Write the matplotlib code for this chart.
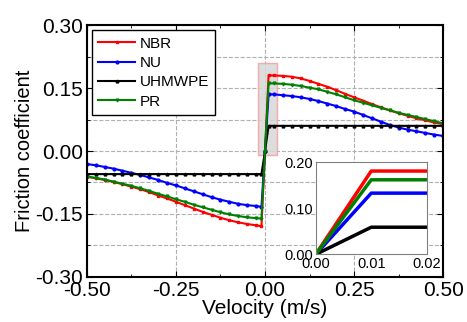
import matplotlib
matplotlib.use("Agg")
import matplotlib.pyplot as plt
from matplotlib.patches import Rectangle
from matplotlib.ticker import MultipleLocator

plt.rcParams['font.family'] = ['Liberation Sans', 'DejaVu Sans']

# velocity grid (m/s)
v_neg = [-0.500, -0.475, -0.450, -0.425, -0.400, -0.375, -0.350, -0.325, -0.300, -0.275,
         -0.250, -0.225, -0.200, -0.175, -0.150, -0.125, -0.100, -0.075, -0.050, -0.025, -0.010]
v_pos = [0.010, 0.025, 0.050, 0.075, 0.100, 0.125, 0.150, 0.175, 0.200, 0.225,
         0.250, 0.275, 0.300, 0.325, 0.350, 0.375, 0.400, 0.425, 0.450, 0.475, 0.500]

nbr_neg = [-0.061, -0.065, -0.069, -0.074, -0.079, -0.085, -0.091, -0.098, -0.106, -0.113,
           -0.121, -0.129, -0.137, -0.145, -0.152, -0.159, -0.165, -0.170, -0.174, -0.177, -0.179]
nbr_pos = [0.180, 0.180, 0.179, 0.177, 0.173, 0.167, 0.160, 0.153, 0.145, 0.136,
           0.128, 0.120, 0.112, 0.104, 0.097, 0.090, 0.084, 0.078, 0.073, 0.068, 0.064]

nu_neg = [-0.031, -0.034, -0.038, -0.042, -0.047, -0.052, -0.057, -0.063, -0.069, -0.076,
          -0.082, -0.089, -0.096, -0.103, -0.110, -0.116, -0.121, -0.126, -0.129, -0.131, -0.133]
nu_pos = [0.135, 0.135, 0.133, 0.131, 0.128, 0.124, 0.119, 0.113, 0.107, 0.100,
          0.094, 0.086, 0.078, 0.070, 0.062, 0.056, 0.051, 0.047, 0.043, 0.039, 0.036]

uhmwpe_neg = [-0.055] * 21
uhmwpe_pos = [0.060] * 21

pr_neg = [-0.061, -0.064, -0.068, -0.073, -0.078, -0.083, -0.089, -0.095, -0.102, -0.108,
          -0.115, -0.121, -0.128, -0.134, -0.140, -0.146, -0.151, -0.155, -0.158, -0.160, -0.161]
pr_pos = [0.161, 0.161, 0.160, 0.158, 0.155, 0.151, 0.147, 0.141, 0.135, 0.128,
          0.121, 0.115, 0.109, 0.103, 0.097, 0.091, 0.086, 0.081, 0.076, 0.071, 0.066]

# inset (zoom near zero)
v_inset = [0.00, 0.01, 0.02]
nbr_inset = [0.0, 0.181, 0.181]
nu_inset = [0.0, 0.133, 0.133]
uhmwpe_inset = [0.0, 0.059, 0.059]
pr_inset = [0.0, 0.162, 0.162]

v = v_neg + [0.0] + v_pos
series = [
    ('NBR', nbr_neg + [0.0] + nbr_pos, '#ff0000', 's', nbr_inset),
    ('NU', nu_neg + [0.0] + nu_pos, '#0000ff', 'o', nu_inset),
    ('UHMWPE', uhmwpe_neg + [0.0] + uhmwpe_pos, '#000000', '^', uhmwpe_inset),
    ('PR', pr_neg + [0.0] + pr_pos, '#008000', 'v', pr_inset),
]

fig = plt.figure(figsize=(4.67, 3.22), dpi=100)
ax = fig.add_axes([0.186, 0.140, 0.763, 0.782])

for name, y, c, m, _ in series:
    ax.plot(v, y, color=c, marker=m, markersize=2, linewidth=1.5, label=name)

ax.add_patch(Rectangle((-0.02, -0.01), 0.055, 0.22, facecolor='#d8d8d8',
                       edgecolor='#f4a0a0', linewidth=1, alpha=0.85, zorder=1))

ax.set_xlim(-0.5, 0.5)
ax.set_ylim(-0.3, 0.3)
ax.xaxis.set_major_locator(MultipleLocator(0.25))
ax.xaxis.set_minor_locator(MultipleLocator(0.125))
ax.yaxis.set_major_locator(MultipleLocator(0.15))
ax.yaxis.set_minor_locator(MultipleLocator(0.075))
ax.xaxis.set_major_formatter(plt.FormatStrFormatter('%.2f'))
ax.yaxis.set_major_formatter(plt.FormatStrFormatter('%.2f'))
ax.tick_params(which='both', direction='in', top=True, right=True, labelsize=15)
ax.tick_params(which='major', length=4, pad=3)
ax.tick_params(which='minor', length=2.5)
ax.grid(True, which='major', axis='x', linestyle='--', color='#b0b0b0', linewidth=0.8)
ax.grid(True, which='both', axis='y', linestyle='--', color='#b0b0b0', linewidth=0.8)
ax.set_axisbelow(True)
for s in ax.spines.values():
    s.set_linewidth(1.5)
ax.set_xlabel('Velocity (m/s)', fontsize=15, labelpad=-1)
ax.set_ylabel('Friction coefficient', fontsize=14.5, labelpad=1)

leg = ax.legend(loc='upper left', fontsize=11, handlelength=2.4, handletextpad=0.3,
                labelspacing=0.35, borderaxespad=0.35, fancybox=False, framealpha=1)
leg.get_frame().set_edgecolor('black')

# inset
axi = fig.add_axes([0.676, 0.210, 0.238, 0.286])
for name, _, c, m, yi in series:
    axi.plot(v_inset, yi, color=c, linewidth=2.5)
axi.set_xlim(0, 0.02)
axi.set_ylim(0, 0.2)
axi.set_xticks([0.0, 0.01, 0.02])
axi.set_yticks([0.0, 0.1, 0.2])
axi.xaxis.set_major_formatter(plt.FormatStrFormatter('%.2f'))
axi.yaxis.set_major_formatter(plt.FormatStrFormatter('%.2f'))
axi.tick_params(direction='in', labelsize=10.5, length=0, pad=2)
for s in axi.spines.values():
    s.set_color('#808080')

fig.savefig('out.png', dpi=100)
